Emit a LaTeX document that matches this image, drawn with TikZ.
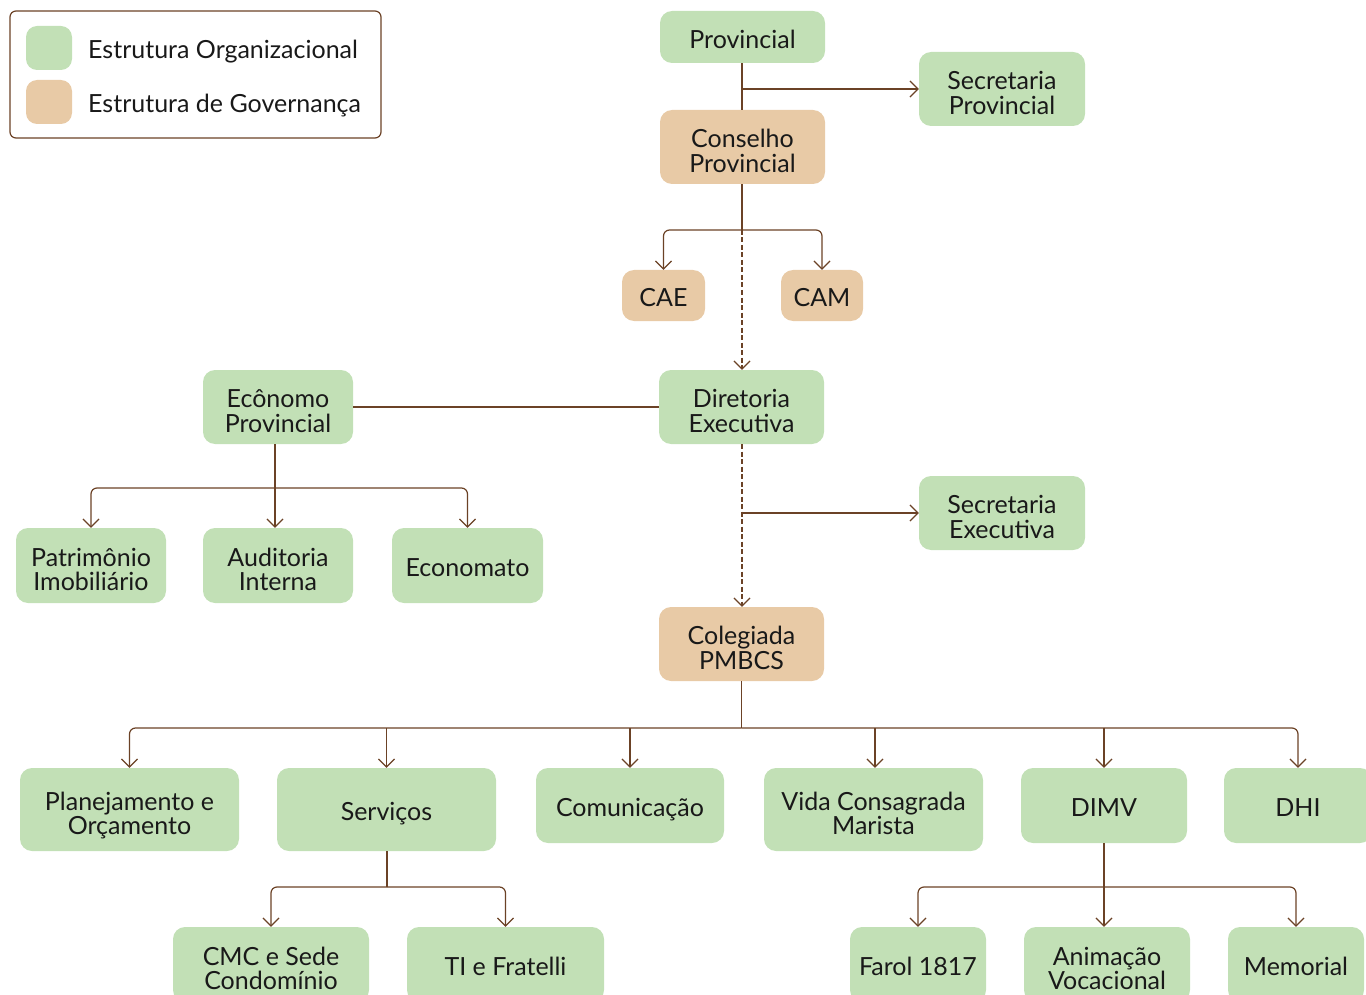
\documentclass[tikz,border=0pt]{standalone}
\usepackage{fontspec}
\setmainfont{Lato}
\usetikzlibrary{arrows.meta}
\definecolor{gfill}{HTML}{C2E0B6}
\definecolor{ofill}{HTML}{E8CAA6}
\definecolor{lnc}{HTML}{6B4226}
\tikzset{
  box/.style={rounded corners=12pt, inner sep=0pt, align=center, font=\fontsize{25}{24.5}\selectfont, text=black!90,
    execute at begin node={\rule{0pt}{28pt}}, execute at end node={\rule[-5.5pt]{0pt}{0pt}}},
  two/.style={execute at begin node={\rule{0pt}{56pt}}},
  gbox/.style={box, fill=gfill},
  obox/.style={box, fill=ofill},
  ln/.style={draw=lnc, line width=1.2pt},
  arr/.style={ln, -{Straight Barb[length=8pt,width=16pt,line width=1.2pt]}},
  dsh/.style={dash pattern=on 5pt off 2.5pt},
  legtext/.style={anchor=base west, inner sep=0pt, font=\fontsize{25}{25}\selectfont, text=black!90},
  swatch/.style={rounded corners=11pt, minimum width=46pt, minimum height=44pt, inner sep=0pt},
}
\begin{document}
\begin{tikzpicture}[x=1pt,y=-1pt]
\useasboundingbox (0,0) rectangle (1366,995);
\clip (0,0) rectangle (1366,995);
% legend
\node[draw=lnc, line width=1.2pt, rounded corners=6pt, minimum width=371pt, minimum height=127pt, inner sep=0pt] (legend) at (195.5,74.5) {};
\node[swatch, fill=gfill] (lg) at (49,48) {};
\node[swatch, fill=ofill] (lo) at (49,102) {};
\node[legtext] (lgt) at (88,59) {Estrutura Organizacional};
\node[legtext] (lot) at (88,113) {Estrutura de Governança};
% nodes
\node[gbox, minimum width=165pt, minimum height=52pt] (prov) at (742.5,37) {Provincial};
\node[gbox, two, minimum width=166pt, minimum height=74pt] (secp) at (1002,89) {Secretaria\\Provincial};
\node[obox, two, minimum width=165pt, minimum height=74pt] (cons) at (742.5,147) {Conselho\\Provincial};
\node[obox, minimum width=83pt, minimum height=51pt] (cae) at (663.5,295.5) {CAE};
\node[obox, minimum width=82pt, minimum height=51pt] (cam) at (822,295.5) {CAM};
\node[gbox, two, minimum width=165pt, minimum height=74pt] (dir) at (741.5,407) {Diretoria\\Executiva};
\node[gbox, two, minimum width=150pt, minimum height=74pt] (eco) at (278,407) {Ecônomo\\Provincial};
\node[gbox, two, minimum width=166pt, minimum height=74pt] (sece) at (1002,513) {Secretaria\\Executiva};
\node[gbox, two, minimum width=150pt, minimum height=75pt] (pat) at (91,565.5) {Patrimônio\\Imobiliário};
\node[gbox, two, minimum width=150pt, minimum height=75pt] (aud) at (278,565.5) {Auditoria\\Interna};
\node[gbox, minimum width=151pt, minimum height=75pt] (econ) at (467.5,565.5) {Economato};
\node[obox, two, minimum width=165pt, minimum height=74pt] (col) at (741.5,644) {Colegiada\\PMBCS};
\node[gbox, two, minimum width=219pt, minimum height=83pt] (plan) at (129.5,809.5) {Planejamento e\\Orçamento};
\node[gbox, minimum width=219pt, minimum height=83pt] (serv) at (386.5,809.5) {Serviços};
\node[gbox, minimum width=188pt, minimum height=75pt] (com) at (630,805.5) {Comunicação};
\node[gbox, two, minimum width=219pt, minimum height=83pt] (vida) at (873.5,809.5) {Vida Consagrada\\Marista};
\node[gbox, minimum width=166pt, minimum height=75pt] (dimv) at (1104,805.5) {DIMV};
\node[gbox, minimum width=148pt, minimum height=75pt] (dhi) at (1298,805.5) {DHI};
\node[gbox, two, minimum width=196pt, minimum height=75pt] (cmc) at (271,964.5) {CMC e Sede\\Condomínio};
\node[gbox, minimum width=197pt, minimum height=75pt] (ti) at (505.5,964.5) {TI e Fratelli};
\node[gbox, minimum width=136pt, minimum height=75pt] (farol) at (918,964.5) {Farol 1817};
\node[gbox, two, minimum width=166pt, minimum height=75pt] (anim) at (1107,964.5) {Animação\\Vocacional};
\node[gbox, minimum width=136pt, minimum height=75pt] (mem) at (1296,964.5) {Memorial};
% junction coordinates
\coordinate (j1) at (742,89);
\coordinate (j2) at (742,230);
\coordinate (j3) at (742,513);
\coordinate (j4) at (741.5,728);
\coordinate (j5) at (275,488);
\coordinate (j6) at (387,887);
\coordinate (j7) at (1104,887);
% connectors
\draw[ln] (prov.south -| j1) -- (cons.north -| j1);
\draw[arr] (j1) -- (secp.west |- j1);
\draw[ln] (cons.south -| j2) -- (j2);
\draw[arr, rounded corners=6pt] (j2) -| (cae.north);
\draw[arr, rounded corners=6pt] (j2) -| (cam.north);
\draw[arr, dsh] (j2) -- (dir.north -| j2);
\draw[ln] (eco.east) -- (dir.west);
\draw[arr] (eco.south -| j5) -- (aud.north -| j5);
\draw[arr, rounded corners=6pt] (j5) -| (pat.north);
\draw[arr, rounded corners=6pt] (j5) -| (econ.north);
\draw[arr, dsh] (dir.south -| j3) -- (col.north -| j3);
\draw[arr] (j3) -- (sece.west |- j3);
\draw[ln] (col.south) -- (j4);
\draw[arr, rounded corners=6pt] (j4) -| (plan.north);
\draw[arr, rounded corners=6pt] (j4) -| (dhi.north);
\draw[arr] (serv.north |- j4) -- (serv.north);
\draw[arr] (com.north |- j4) -- (com.north);
\draw[arr] (875,728) -- (vida.north -| 875,0);
\draw[arr] (dimv.north |- j4) -- (dimv.north);
\draw[ln] (serv.south -| j6) -- (j6);
\draw[arr, rounded corners=6pt] (j6) -| (cmc.north);
\draw[arr, rounded corners=6pt] (j6) -| (ti.north);
\draw[arr] (dimv.south) -- (anim.north -| j7);
\draw[arr, rounded corners=6pt] (j7) -| (farol.north);
\draw[arr, rounded corners=6pt] (j7) -| (mem.north);
\end{tikzpicture}
\end{document}
